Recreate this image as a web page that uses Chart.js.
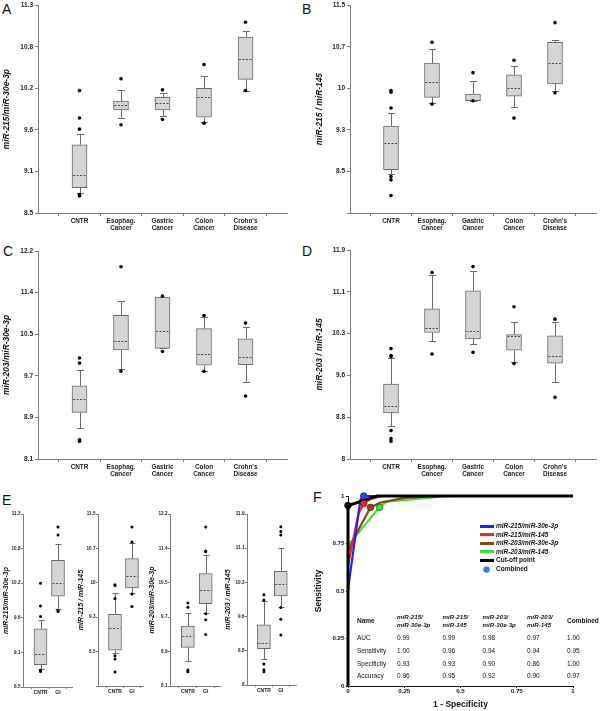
<!DOCTYPE html>
<html>
<head>
<meta charset="utf-8">
<title>miRNA ratio box plots and ROC</title>
<script src="https://cdn.jsdelivr.net/npm/chart.js@4.4.1/dist/chart.umd.min.js"></script>
<style>
  body { margin: 0; width: 600px; height: 711px; position: relative; overflow: hidden; background: #fff;
         font-family: 'Liberation Sans', Arial, sans-serif; color: #111; }
  canvas { position: absolute; }
  .letter { position: absolute; font-size: 14px; line-height: 14px; color: #111; }
  .t { position: absolute; white-space: nowrap; line-height: 8px; height: 8px; font-size: 6.5px; color: #111; }
  .sw { position: absolute; }
</style>
</head>
<body>
<div class="letter" style="left:2px;top:1.5px">A</div>
<div class="letter" style="left:302px;top:1.5px">B</div>
<div class="letter" style="left:3px;top:243.5px">C</div>
<div class="letter" style="left:302px;top:243.5px">D</div>
<div class="letter" style="left:2px;top:493px">E</div>
<div class="letter" style="left:313px;top:490px">F</div>
<script>
const FONT = "'Liberation Sans', Arial, sans-serif";
const AXIS = '#7d7d7d';

// categories
const catsFive = ['CNTR', ['Esophag.', 'Cancer'], ['Gastric', 'Cancer'], ['Colon', 'Cancer'], ["Crohn's", 'Disease']];
const catsTwo = ['CNTR', 'GI'];

// y axes (evenly spaced ticks, printed labels)
const rangeA = [8.5, 11.3];  const ticksA = ['8.5', '9.1', '9.6', '10.2', '10.8', '11.3'];
const rangeB = [7.8, 11.5];  const ticksB = ['', '8.5', '9.3', '10', '10.7', '11.5'];
const rangeC = [8.1, 12.2];  const ticksC = ['8.1', '8.9', '9.7', '10.5', '11.4', '12.2'];
const rangeD = [8.0, 11.9];  const ticksD = ['8', '8.8', '9.6', '10.3', '11.1', '11.9'];

// A: miR-215/miR-30e-3p
const lowA  = [8.77, 9.78, 9.81, 9.72, 10.15];
const q1A   = [8.84, 9.89, 9.89, 9.79, 10.30];
const medA  = [9.01, 9.95, 9.98, 10.06, 10.57];
const q3A   = [9.42, 10.01, 10.06, 10.18, 10.87];
const highA = [9.56, 10.16, 10.12, 10.35, 10.95];
const outA  = [[10.15, 9.78, 9.63, 8.75, 8.73], [10.31, 9.69], [10.16, 9.76], [10.50, 9.71], [11.07, 10.15]];

// B: miR-215/miR-145
const lowB  = [8.49, 9.76, 9.80, 9.68, 9.98];
const q1B   = [8.57, 9.86, 9.80, 9.88, 10.10];
const medB  = [9.04, 10.14, 9.81, 10.02, 10.47];
const q3B   = [9.35, 10.47, 9.92, 10.26, 10.84];
const highB = [9.58, 10.72, 10.15, 10.42, 10.89];
const outB  = [[9.98, 9.95, 9.67, 8.45, 8.39, 8.11], [10.84, 9.74], [10.30, 9.80], [10.52, 9.49], [11.19, 9.94]];

// C: miR-203/miR-30e-3p
const lowC  = [8.71, 9.87, 10.28, 9.84, 9.62];
const q1C   = [9.02, 10.25, 10.28, 9.95, 9.96];
const medC  = [9.29, 10.43, 10.63, 10.17, 10.11];
const q3C   = [9.54, 10.93, 11.29, 10.67, 10.47];
const highC = [9.85, 11.22, 11.29, 10.89, 10.70];
const outC  = [[10.09, 9.99, 8.48, 8.45], [11.89, 9.83], [11.31, 10.22], [10.93, 9.83], [10.78, 9.34]];

// D: miR-203/miR-145
const lowD  = [8.62, 10.20, 10.14, 9.81, 9.44];
const q1D   = [8.86, 10.36, 10.24, 10.03, 9.79];
const medD  = [8.99, 10.44, 10.39, 10.30, 9.92];
const q3D   = [9.40, 10.80, 11.14, 10.32, 10.30];
const highD = [9.88, 11.43, 11.50, 10.55, 10.56];
const outD  = [[10.06, 9.93, 9.91, 8.53, 8.38, 8.33], [11.48, 9.96], [11.59, 9.99], [10.84, 9.78], [10.61, 9.15]];

// E: CNTR vs GI
const lowE1 = [8.79, 9.76];  const q1E1 = [8.86, 9.97];  const medE1 = [9.03, 10.18];
const q3E1 = [9.44, 10.55];  const highE1 = [9.59, 10.82];
const outE1 = [[10.18, 9.81, 9.64, 8.77, 8.75], [11.09, 10.96, 9.74, 9.72]];
const lowE2 = [8.50, 9.81];  const q1E2 = [8.57, 9.91];  const medE2 = [9.05, 10.17];
const q3E2 = [9.34, 10.54];  const highE2 = [9.81, 10.88];
const outE2 = [[9.98, 9.96, 9.68, 8.45, 8.38, 8.10], [11.22, 10.90, 9.78, 9.51]];
const lowE3 = [8.70, 9.84];  const q1E3 = [9.02, 10.06];  const medE3 = [9.29, 10.40];
const q3E3 = [9.53, 10.78];  const highE3 = [9.84, 11.22];
const outE3 = [[10.08, 9.98, 8.48, 8.44], [11.89, 11.32, 11.30, 9.82, 9.68, 9.33]];
const lowE4 = [8.60, 9.79];  const q1E4 = [8.83, 10.03];  const medE4 = [8.96, 10.30];
const q3E4 = [9.37, 10.59];  const highE4 = [9.92, 11.13];
const outE4 = [[10.06, 9.94, 8.48, 8.35, 8.30], [11.61, 11.50, 11.42, 9.77, 9.50, 9.14]];

// F: ROC curves [1 - specificity, sensitivity]
const rocBlue  = [[0, 0.50], [0.006, 0.56], [0.055, 0.98], [0.07, 1.00], [1, 1]];
const rocRed   = [[0, 0.64], [0.006, 0.67], [0.047, 0.91], [0.07, 0.96], [0.10, 0.985], [0.15, 1.00], [1, 1]];
const rocBrown = [[0, 0.71], [0.05, 0.83], [0.10, 0.94], [0.144, 0.965], [0.25, 0.99], [0.41, 1.00], [1, 1]];
const rocGreen = [[0, 0.74], [0.14, 0.94], [0.173, 0.97], [0.30, 0.985], [0.45, 1.00], [1, 1]];
const rocCut   = [[0, 0], [0, 0.95], [0.13, 1.00], [1, 1]];
const rocTicks = [0, 0.25, 0.5, 0.75, 1];
const rocTickLabels = ['0', '0.25', '0.5', '0.75', '1'];

// F: table
const seriesNames = ['miR-215/miR-30e-3p', 'miR-215/miR-145', 'miR-203/miR-30e-3p', 'miR-203/miR-145'];
const tableHeads = [['miR-215/', 'miR-30e-3p'], ['miR-215/', 'miR-145'], ['miR-203/', 'miR-30e-3p'], ['miR-203/', 'miR-145'], ['Combined']];
const tableRows = ['AUC', 'Sensitivity', 'Specificity', 'Accuracy'];
const aucVals  = [0.99, 0.99, 0.98, 0.97, 1.00];
const sensVals = [1.00, 0.96, 0.94, 0.94, 0.95];
const specVals = [0.93, 0.93, 0.90, 0.86, 1.00];
const accVals  = [0.96, 0.95, 0.92, 0.90, 0.97];

const BIG = { tick: 6.5, xTick: 6.4, title: 8.4, barW: 15, cap: 7, dot: 1.8, tickLen: 3, yPad: 2, xPad: 1 };
const SMALL = { tick: 4.6, xTick: 5, title: 7, barW: 13, cap: 6, dot: 1.5, tickLen: 2, yPad: 0.5, xPad: 0.5 };

function boxPanel(p) {
  const s = p.s;
  const cv = document.createElement('canvas');
  cv.width = p.w; cv.height = p.h;
  cv.style.left = p.x + 'px'; cv.style.top = p.y + 'px';
  document.body.appendChild(cv);

  const boxes = p.q1.map((v, i) => ({ x: i + 1, y: [v, p.q3[i]] }));
  const dots = [];
  p.out.forEach((vals, i) => vals.forEach(v => dots.push({ x: i + 1, y: v })));

  const whisk = {
    id: 'whisk',
    beforeDatasetsDraw(chart) {
      const { ctx, scales: { x, y } } = chart;
      ctx.save();
      ctx.strokeStyle = '#6a6a6a'; ctx.lineWidth = 1;
      p.low.forEach((lo, i) => {
        const cx = Math.round(x.getPixelForValue(i + 1)) + 0.5;
        const yl = Math.round(y.getPixelForValue(lo)) + 0.5;
        const yh = Math.round(y.getPixelForValue(p.high[i])) + 0.5;
        ctx.beginPath();
        ctx.moveTo(cx, y.getPixelForValue(p.q1[i])); ctx.lineTo(cx, yl);
        ctx.moveTo(cx, y.getPixelForValue(p.q3[i])); ctx.lineTo(cx, yh);
        ctx.moveTo(cx - s.cap / 2, yl); ctx.lineTo(cx + s.cap / 2, yl);
        ctx.moveTo(cx - s.cap / 2, yh); ctx.lineTo(cx + s.cap / 2, yh);
        ctx.stroke();
      });
      ctx.restore();
    },
    afterDatasetsDraw(chart) {
      const { ctx, scales: { x, y } } = chart;
      ctx.save();
      ctx.strokeStyle = '#4a4a4a'; ctx.lineWidth = 1; ctx.setLineDash([2, 1.5]);
      p.med.forEach((m, i) => {
        const cx = x.getPixelForValue(i + 1);
        const ym = Math.round(y.getPixelForValue(m)) + 0.5;
        ctx.beginPath();
        ctx.moveTo(cx - s.barW / 2 + 1, ym); ctx.lineTo(cx + s.barW / 2 - 1, ym);
        ctx.stroke();
      });
      ctx.restore();
    }
  };

  new Chart(cv, {
    type: 'bar',
    data: {
      datasets: [
        { type: 'scatter', data: dots, pointRadius: s.dot, pointBackgroundColor: '#000', pointBorderWidth: 0, clip: false },
        { type: 'bar', data: boxes, backgroundColor: '#d5d5d5', borderColor: '#6a6a6a', borderWidth: 1,
          borderSkipped: false, barThickness: s.barW }
      ]
    },
    options: {
      responsive: false, animation: false, events: [],
      layout: { padding: { left: 0, top: p.t, right: p.w - p.r, bottom: 0 } },
      plugins: { legend: { display: false }, tooltip: { enabled: false } },
      scales: {
        x: {
          type: 'linear', min: 0, max: p.xMax, offset: false,
          afterFit: sc => { sc.height = p.h - p.b; },
          afterBuildTicks: sc => {
            const t = [];
            for (let v = 0.5; v < p.xMax; v += 0.5) t.push({ value: v });
            sc.ticks = t;
          },
          ticks: {
            autoSkip: false, maxRotation: 0, minRotation: 0, padding: s.xPad, color: '#1a1a1a',
            font: { family: FONT, size: s.xTick, weight: 'bold', lineHeight: 1.22 },
            callback: v => Number.isInteger(v) ? p.cats[v - 1] : ''
          },
          grid: {
            offset: false, drawOnChartArea: false, tickLength: s.tickLen,
            tickColor: c => (c.tick && Number.isInteger(c.tick.value)) ? 'rgba(0,0,0,0)' : AXIS
          },
          border: { color: AXIS, width: 1 }
        },
        y: {
          type: 'linear', min: p.range[0], max: p.range[1], beginAtZero: false,
          afterFit: sc => { sc.width = p.l; },
          afterBuildTicks: sc => {
            const n = p.ticks.length;
            sc.ticks = p.ticks.map((_, i) => ({ value: p.range[0] + i * (p.range[1] - p.range[0]) / (n - 1) }));
          },
          ticks: {
            autoSkip: false, padding: s.yPad, color: '#1a1a1a',
            font: { family: FONT, size: s.tick, weight: 'bold', lineHeight: 1 },
            callback: (v, i) => p.ticks[i]
          },
          grid: { drawOnChartArea: false, tickLength: s.tickLen, color: AXIS },
          border: { color: AXIS, width: 1 },
          title: {
            display: true, text: p.title, color: '#111', padding: { top: p.titlePad, bottom: 0 },
            font: { family: FONT, size: s.title, weight: 'bold', style: 'italic' }
          }
        }
      }
    },
    plugins: [whisk]
  });
}

boxPanel({ x: 0, y: 0, w: 300, h: 240, l: 38, t: 3, r: 287, b: 213, xMax: 6, cats: catsFive, s: BIG,
  range: rangeA, ticks: ticksA, title: 'miR-215/miR-30e-3p', titlePad: 2,
  low: lowA, q1: q1A, med: medA, q3: q3A, high: highA, out: outA });
boxPanel({ x: 300, y: 0, w: 300, h: 240, l: 50, t: 3, r: 298, b: 213, xMax: 6, cats: catsFive, s: BIG,
  range: rangeB, ticks: ticksB, title: 'miR-215 / miR-145', titlePad: 15,
  low: lowB, q1: q1B, med: medB, q3: q3B, high: highB, out: outB });
boxPanel({ x: 0, y: 240, w: 300, h: 240, l: 38, t: 11, r: 287, b: 219, xMax: 6, cats: catsFive, s: BIG,
  range: rangeC, ticks: ticksC, title: 'miR-203/miR-30e-3p', titlePad: 2,
  low: lowC, q1: q1C, med: medC, q3: q3C, high: highC, out: outC });
boxPanel({ x: 300, y: 240, w: 300, h: 240, l: 50, t: 10, r: 298, b: 219, xMax: 6, cats: catsFive, s: BIG,
  range: rangeD, ticks: ticksD, title: 'miR-203 / miR-145', titlePad: 15,
  low: lowD, q1: q1D, med: medD, q3: q3D, high: highD, out: outD });

boxPanel({ x: 0, y: 500, w: 78, h: 211, l: 23, t: 14, r: 72, b: 187, xMax: 2.8, cats: catsTwo, s: SMALL,
  range: rangeA, ticks: ticksA, title: 'miR-215/miR-30e-3p', titlePad: 1.8,
  low: lowE1, q1: q1E1, med: medE1, q3: q3E1, high: highE1, out: outE1 });
boxPanel({ x: 75, y: 500, w: 75, h: 211, l: 23, t: 14, r: 68, b: 186, xMax: 2.65, cats: catsTwo, s: SMALL,
  range: rangeB, ticks: ticksB, title: 'miR-215 / miR-145', titlePad: 1.8,
  low: lowE2, q1: q1E2, med: medE2, q3: q3E2, high: highE2, out: outE2 });
boxPanel({ x: 145, y: 500, w: 80, h: 211, l: 25, t: 14, r: 75, b: 186, xMax: 2.8, cats: catsTwo, s: SMALL,
  range: rangeC, ticks: ticksC, title: 'miR-203/miR-30e-3p', titlePad: 2.5,
  low: lowE3, q1: q1E3, med: medE3, q3: q3E3, high: highE3, out: outE3 });
boxPanel({ x: 220, y: 500, w: 80, h: 211, l: 27, t: 14, r: 78, b: 185, xMax: 2.9, cats: catsTwo, s: SMALL,
  range: rangeD, ticks: ticksD, title: 'miR-203 / miR-145', titlePad: 4,
  low: lowE4, q1: q1E4, med: medE4, q3: q3E4, high: highE4, out: outE4 });

// ---- F: ROC ----
const rocColors = ['#1f22ff', '#ff1f1f', '#8b4a14', '#3de03d'];
const markerFill = ['#2b44f0', '#ee2222', '#8b4a14', '#3ddc3d', '#000'];
const markerEdge = ['#1a2aa0', '#991111', '#4d2a0a', '#1f7a1f', '#000'];
const toPts = arr => arr.map(([x, y]) => ({ x, y }));
const markers = specVals.map((sp, i) => ({ x: 1 - sp, y: sensVals[i] }));

const cvF = document.createElement('canvas');
cvF.width = 300; cvF.height = 231;
cvF.style.left = '300px'; cvF.style.top = '480px';
document.body.appendChild(cvF);

const rocAxis = (title, pad, fit) => ({
  type: 'linear', min: 0, max: 1,
  afterFit: fit,
  afterBuildTicks: sc => { sc.ticks = rocTicks.map(v => ({ value: v })); },
  ticks: { autoSkip: false, maxRotation: 0, padding: pad.tick, color: '#111',
           font: { family: FONT, size: 6.2, weight: 'bold', lineHeight: 1 },
           callback: (v, i) => rocTickLabels[i] },
  grid: { drawOnChartArea: false, tickLength: 2, color: '#111' },
  border: { color: '#111', width: 1 },
  title: { display: true, text: title, color: '#111', padding: pad.title,
           font: { family: FONT, size: 8.5, weight: 'bold' } }
});

new Chart(cvF, {
  type: 'scatter',
  data: {
    datasets: [
      { data: markers, pointRadius: 3.3, pointBackgroundColor: markerFill, pointBorderColor: markerEdge, pointBorderWidth: 0.8, clip: false },
      { data: toPts(rocCut), showLine: true, borderColor: '#000', borderWidth: 3, pointRadius: 0, clip: false },
      { data: toPts(rocBlue), showLine: true, borderColor: rocColors[0], borderWidth: 2.2, pointRadius: 0, clip: false },
      { data: toPts(rocRed), showLine: true, borderColor: rocColors[1], borderWidth: 2.2, pointRadius: 0, clip: false },
      { data: toPts(rocBrown), showLine: true, borderColor: rocColors[2], borderWidth: 2.2, pointRadius: 0, clip: false },
      { data: toPts(rocGreen), showLine: true, borderColor: rocColors[3], borderWidth: 2.2, pointRadius: 0, clip: false }
    ]
  },
  options: {
    responsive: false, animation: false, events: [],
    layout: { padding: { left: 0, top: 16, right: 27, bottom: 0 } },
    plugins: { legend: { display: false }, tooltip: { enabled: false } },
    scales: {
      x: rocAxis('1 - Specificity', { tick: 0.5, title: { top: 0, bottom: 1 } }, sc => { sc.height = 25; }),
      y: rocAxis('Sensitivity', { tick: 1.5, title: { top: 14, bottom: 0 } }, sc => { sc.width = 48; })
    }
  }
});

// legend
function addText(txt, left, top, css) {
  const d = document.createElement('div');
  d.className = 't';
  d.textContent = txt;
  d.style.left = left + 'px';
  d.style.top = (top - 4) + 'px';
  if (css) d.style.cssText += css;
  document.body.appendChild(d);
  return d;
}
function addSwatch(left, top, w, h, css) {
  const d = document.createElement('div');
  d.className = 'sw';
  d.style.cssText += `left:${left}px;top:${top}px;width:${w}px;height:${h}px;` + css;
  document.body.appendChild(d);
}
seriesNames.forEach((name, i) => {
  const y = 526 + i * 8.6;
  addSwatch(480, y - 1.5, 14, 3, `background:${rocColors[i]};`);
  addText(name, 496, y, 'font-weight:bold;font-style:italic;');
});
addSwatch(480, 526 + 4 * 8.6 - 1.25, 14, 2.5, 'background:#000;');
addText('Cut-off point', 496, 526 + 4 * 8.6, 'font-weight:bold;');
addSwatch(484, 526 + 5 * 8.6 - 2.5, 5, 5, 'background:#3d7ee8;border-radius:50%;box-shadow:0 0 0 0.6px #2a55b0;');
addText('Combined', 496, 526 + 5 * 8.6, 'font-weight:bold;');

// table
const colX = [397, 442.5, 482.5, 527, 567];
addText('Name', 357, 621, 'font-weight:bold;');
tableHeads.forEach((h, c) => {
  if (h.length === 2) {
    addText(h[0], colX[c], 617, 'font-weight:bold;font-style:italic;font-size:6.2px;');
    addText(h[1], colX[c], 625, 'font-weight:bold;font-style:italic;font-size:6.2px;');
  } else {
    addText(h[0], colX[c], 621, 'font-weight:bold;');
  }
});
const rowVals = [aucVals, sensVals, specVals, accVals];
const rowY = [637.5, 650.8, 663.5, 676.2];
tableRows.forEach((r, k) => {
  addText(r, 357, rowY[k]);
  rowVals[k].forEach((v, c) => addText(v.toFixed(2), colX[c], rowY[k]));
});
</script>
</body>
</html>
